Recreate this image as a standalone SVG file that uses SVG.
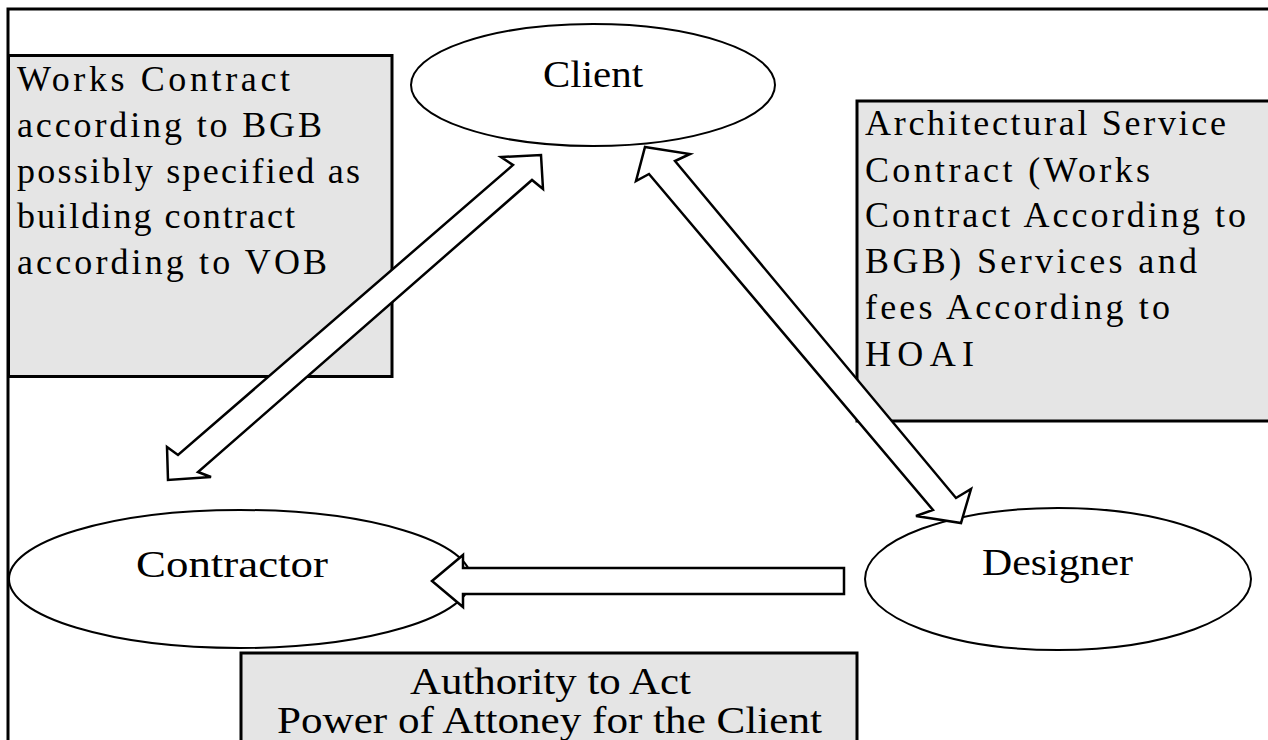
<svg xmlns="http://www.w3.org/2000/svg" width="1268" height="740" viewBox="0 0 1268 740">
<style>
.frame{fill:#ffffff;stroke:#000;stroke-width:3}
.box{fill:#e5e5e5;stroke:#000;stroke-width:3}
.ell{fill:#ffffff;stroke:#000;stroke-width:2}
.arr{fill:#ffffff;stroke:#000;stroke-width:2.5;stroke-linejoin:miter}
text{font-family:"Liberation Serif","Times New Roman",serif;fill:#000}
.bt{font-size:36px}
.nt{font-size:38px}
</style>
<rect class="frame" x="8" y="9" width="1275" height="745"/>
<g id="works-contract">
<rect class="box" x="8.5" y="55.5" width="383.5" height="321"/>
<text class="bt" x="17" y="91" textLength="273">Works Contract</text>
<text class="bt" x="17" y="137" textLength="305">according to BGB</text>
<text class="bt" x="17" y="183" textLength="343">possibly specified as</text>
<text class="bt" x="17" y="228" textLength="278">building contract</text>
<text class="bt" x="17" y="274" textLength="310">according to VOB</text>
</g>
<g id="architectural-contract">
<rect class="box" x="857" y="101" width="420" height="320"/>
<text class="bt" x="865" y="135" textLength="361">Architectural Service</text>
<text class="bt" x="865" y="182" textLength="285">Contract (Works</text>
<text class="bt" x="865" y="227" textLength="381">Contract According to</text>
<text class="bt" x="865" y="273" textLength="332">BGB) Services and</text>
<text class="bt" x="865" y="319" textLength="305">fees According to</text>
<text class="bt" x="865" y="366" textLength="109">HOAI</text>
</g>
<g id="authority">
<rect class="box" x="241" y="653" width="616" height="100"/>
<text class="nt" x="410" y="694" textLength="281" lengthAdjust="spacingAndGlyphs">Authority to Act</text>
<text class="nt" x="277" y="733" textLength="545" lengthAdjust="spacingAndGlyphs">Power of Attoney for the Client</text>
</g>
<g id="client">
<ellipse class="ell" cx="593" cy="85" rx="182" ry="61"/>
<text class="nt" x="543" y="87" textLength="100" lengthAdjust="spacingAndGlyphs">Client</text>
</g>
<g id="contractor">
<ellipse class="ell" cx="240" cy="579" rx="231" ry="69"/>
<text class="nt" x="136" y="577" textLength="192" lengthAdjust="spacingAndGlyphs">Contractor</text>
</g>
<g id="designer">
<ellipse class="ell" cx="1058" cy="579" rx="193" ry="71"/>
<text class="nt" x="982" y="575" textLength="151" lengthAdjust="spacingAndGlyphs">Designer</text>
</g>
<g id="connectors">
<polygon class="arr" points="541,155 543,189 532,180 198,472 211,477 168,480 167,447 178,455 513,165 501,157"/>
<polygon class="arr" points="645,147 690,154 675,161 956,498 971,489 961,523 916,516 933,510 649,174 636,181"/>
<polygon class="arr" points="432,581 463,555 463,568 844,568 844,594 463,594 463,607"/>
</g>
</svg>
